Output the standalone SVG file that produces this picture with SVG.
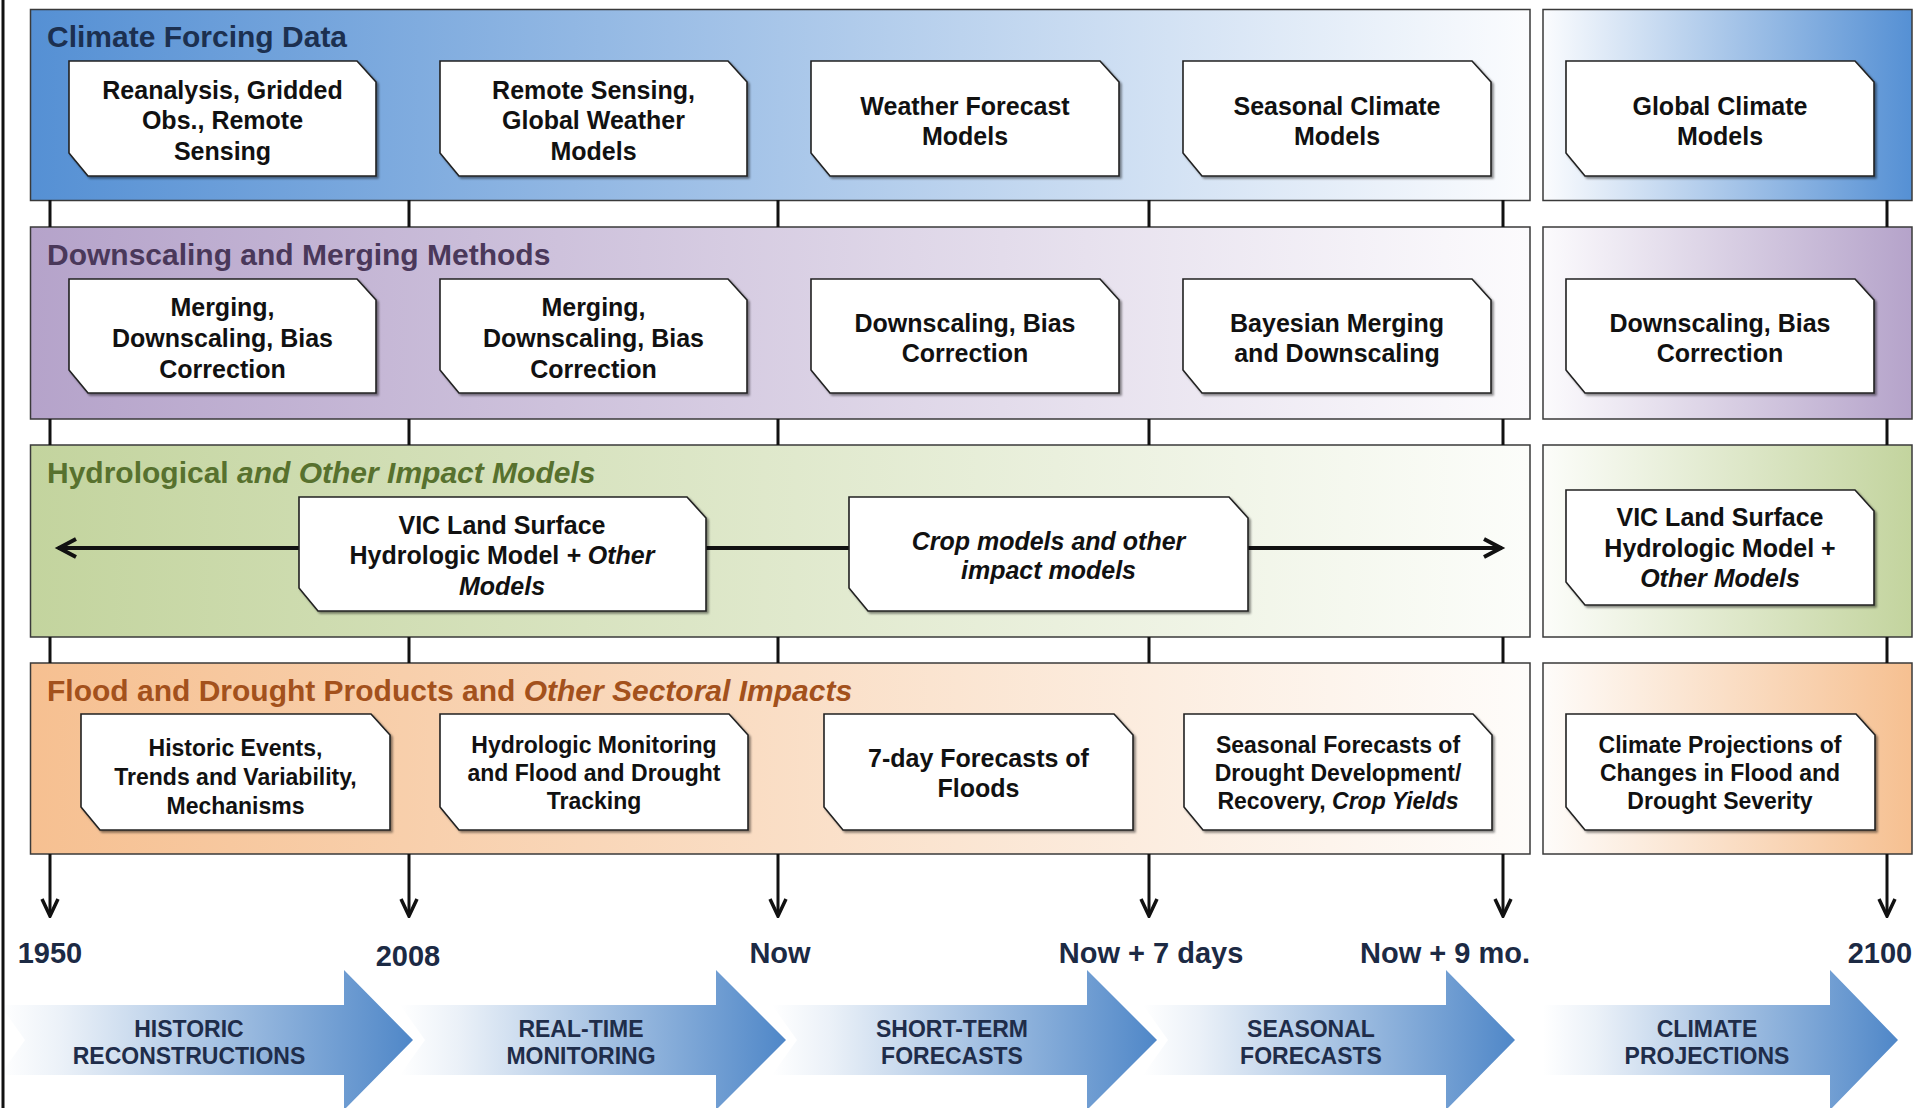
<svg xmlns="http://www.w3.org/2000/svg" width="1927" height="1108" viewBox="0 0 1927 1108">
  <defs>
    <style>
      text { font-family: "Liberation Sans", Arial, Helvetica, sans-serif; font-weight: bold; }
      .panel { stroke: #3a3a3a; stroke-width: 1.5; }
      .title { font-size: 30px; }
      .box { fill: #ffffff; stroke: #222222; stroke-width: 1.6; filter: url(#shadow); }
      .bt { font-size: 25px; fill: #111111; text-anchor: middle; }
      .bs { font-size: 23px; fill: #111111; text-anchor: middle; }
      .it { font-style: italic; }
      .tick { stroke: #111111; stroke-width: 3; fill: none; }
      .time { font-size: 29px; fill: #1c2a44; text-anchor: middle; }
      .phase { font-size: 23px; fill: #1f2d4a; text-anchor: middle; }
      .flow { stroke: #111111; stroke-width: 4; fill: none; }
    </style>
    <filter id="shadow" x="-5%" y="-5%" width="115%" height="120%">
      <feDropShadow dx="2" dy="2" stdDeviation="1" flood-color="#000000" flood-opacity="0.45"/>
    </filter>
    <linearGradient id="gBlueL" x1="0" y1="0" x2="1" y2="0">
      <stop offset="0" stop-color="#5590d4"/><stop offset="1" stop-color="#fbfcfe"/>
    </linearGradient>
    <linearGradient id="gBlueR" x1="0" y1="0" x2="1" y2="0">
      <stop offset="0" stop-color="#fbfcfe"/><stop offset="1" stop-color="#5590d4"/>
    </linearGradient>
    <linearGradient id="gPurpL" x1="0" y1="0" x2="1" y2="0">
      <stop offset="0" stop-color="#b5a3ca"/><stop offset="1" stop-color="#fcfbfd"/>
    </linearGradient>
    <linearGradient id="gPurpR" x1="0" y1="0" x2="1" y2="0">
      <stop offset="0" stop-color="#fcfbfd"/><stop offset="1" stop-color="#b5a3ca"/>
    </linearGradient>
    <linearGradient id="gGreenL" x1="0" y1="0" x2="1" y2="0">
      <stop offset="0" stop-color="#c3d49e"/><stop offset="1" stop-color="#fcfdfa"/>
    </linearGradient>
    <linearGradient id="gGreenR" x1="0" y1="0" x2="1" y2="0">
      <stop offset="0" stop-color="#fcfdfa"/><stop offset="1" stop-color="#c3d49e"/>
    </linearGradient>
    <linearGradient id="gOrangeL" x1="0" y1="0" x2="1" y2="0">
      <stop offset="0" stop-color="#f6c091"/><stop offset="1" stop-color="#fefcfa"/>
    </linearGradient>
    <linearGradient id="gOrangeR" x1="0" y1="0" x2="1" y2="0">
      <stop offset="0" stop-color="#fefcfa"/><stop offset="1" stop-color="#f6c091"/>
    </linearGradient>
    <linearGradient id="gPhase" x1="0" y1="0" x2="1" y2="0">
      <stop offset="0" stop-color="#ffffff"/><stop offset="0.15" stop-color="#ebf1f8"/><stop offset="1" stop-color="#4f87c8"/>
    </linearGradient>
    <!-- chevron head, drawn along +x so orient="auto" follows the line -->
    <marker id="down" viewBox="-20 -10 22 20" markerWidth="22" markerHeight="20" refX="0" refY="0" orient="auto" markerUnits="userSpaceOnUse">
      <path d="M -17,-8 L 0,0 L -17,8" fill="none" stroke="#111111" stroke-width="3.5" stroke-linejoin="miter"/>
    </marker>
  </defs>

  <rect x="0" y="0" width="1927" height="1108" fill="#ffffff"/>

  <!-- bands -->
  <g id="band-forcing">
    <rect class="panel" x="30.5" y="9.5" width="1499.5" height="191" fill="url(#gBlueL)"/>
    <rect class="panel" x="1543" y="9.5" width="369" height="191" fill="url(#gBlueR)"/>
    <text class="title" x="47" y="47" fill="#1c3050">Climate Forcing Data</text>
  </g>
  <g id="band-downscaling">
    <rect class="panel" x="30.5" y="227" width="1499.5" height="192" fill="url(#gPurpL)"/>
    <rect class="panel" x="1543" y="227" width="369" height="192" fill="url(#gPurpR)"/>
    <text class="title" x="47" y="265" fill="#4a385a">Downscaling and Merging Methods</text>
  </g>
  <g id="band-impact">
    <rect class="panel" x="30.5" y="445" width="1499.5" height="192" fill="url(#gGreenL)"/>
    <rect class="panel" x="1543" y="445" width="369" height="192" fill="url(#gGreenR)"/>
    <text class="title" x="47" y="483" fill="#57712e">Hydrological <tspan class="it">and Other Impact Models</tspan></text>
  </g>
  <g id="band-products">
    <rect class="panel" x="30.5" y="663" width="1499.5" height="191" fill="url(#gOrangeL)"/>
    <rect class="panel" x="1543" y="663" width="369" height="191" fill="url(#gOrangeR)"/>
    <text class="title" x="47" y="701" fill="#a3511c">Flood and Drought Products and <tspan class="it">Other Sectoral Impacts</tspan></text>
  </g>

  <!-- connectors: ticks between bands, model-chain arrow, timeline arrows -->
  <g id="connectors">
    <path class="tick" d="M50,200 V227 M409,200 V227 M778,200 V227 M1149,200 V227 M1503,200 V227 M1887,200 V227"/>
    <path class="tick" d="M50,419 V445 M409,419 V445 M778,419 V445 M1149,419 V445 M1503,419 V445 M1887,419 V445"/>
    <path class="tick" d="M50,637 V663 M409,637 V663 M778,637 V663 M1149,637 V663 M1503,637 V663 M1887,637 V663"/>
    <line class="flow" x1="58" y1="548" x2="1502" y2="548"/>
    <path class="flow" d="M76,539 L59,548 L76,557"/>
    <path class="flow" d="M1484,539 L1501,548 L1484,557"/>
    <line class="tick" x1="50" y1="854" x2="50" y2="916" marker-end="url(#down)"/>
    <line class="tick" x1="409" y1="854" x2="409" y2="916" marker-end="url(#down)"/>
    <line class="tick" x1="778" y1="854" x2="778" y2="916" marker-end="url(#down)"/>
    <line class="tick" x1="1149" y1="854" x2="1149" y2="916" marker-end="url(#down)"/>
    <line class="tick" x1="1503" y1="854" x2="1503" y2="916" marker-end="url(#down)"/>
    <line class="tick" x1="1887" y1="854" x2="1887" y2="916" marker-end="url(#down)"/>
  </g>

  <!-- row 1: forcing sources -->
  <g id="n-reanalysis">
    <path class="box" d="M69,61 H357 L376,82 V176 H88 L69,153 Z"/>
    <text class="bt"><tspan x="222.5" y="99">Reanalysis, Gridded</tspan><tspan x="222.5" y="129">Obs., Remote</tspan><tspan x="222.5" y="160">Sensing</tspan></text>
  </g>
  <g id="n-remote-sensing">
    <path class="box" d="M440,61 H728 L747,82 V176 H459 L440,153 Z"/>
    <text class="bt"><tspan x="593.5" y="99">Remote Sensing,</tspan><tspan x="593.5" y="129">Global Weather</tspan><tspan x="593.5" y="160">Models</tspan></text>
  </g>
  <g id="n-weather-forecast">
    <path class="box" d="M811,61 H1100 L1119,82 V176 H830 L811,153 Z"/>
    <text class="bt"><tspan x="965" y="115">Weather Forecast</tspan><tspan x="965" y="145">Models</tspan></text>
  </g>
  <g id="n-seasonal-climate">
    <path class="box" d="M1183,61 H1472 L1491,82 V176 H1202 L1183,153 Z"/>
    <text class="bt"><tspan x="1337" y="115">Seasonal Climate</tspan><tspan x="1337" y="145">Models</tspan></text>
  </g>
  <g id="n-global-climate">
    <path class="box" d="M1566,61 H1855 L1874,82 V176 H1585 L1566,153 Z"/>
    <text class="bt"><tspan x="1720" y="115">Global Climate</tspan><tspan x="1720" y="145">Models</tspan></text>
  </g>

  <!-- row 2: downscaling -->
  <g id="n-merging-1">
    <path class="box" d="M69,279 H357 L376,300 V393 H88 L69,370 Z"/>
    <text class="bt"><tspan x="222.5" y="316">Merging,</tspan><tspan x="222.5" y="347">Downscaling, Bias</tspan><tspan x="222.5" y="378">Correction</tspan></text>
  </g>
  <g id="n-merging-2">
    <path class="box" d="M440,279 H728 L747,300 V393 H459 L440,370 Z"/>
    <text class="bt"><tspan x="593.5" y="316">Merging,</tspan><tspan x="593.5" y="347">Downscaling, Bias</tspan><tspan x="593.5" y="378">Correction</tspan></text>
  </g>
  <g id="n-downscaling-1">
    <path class="box" d="M811,279 H1100 L1119,300 V393 H830 L811,370 Z"/>
    <text class="bt"><tspan x="965" y="332">Downscaling, Bias</tspan><tspan x="965" y="362">Correction</tspan></text>
  </g>
  <g id="n-bayesian">
    <path class="box" d="M1183,279 H1472 L1491,300 V393 H1202 L1183,370 Z"/>
    <text class="bt"><tspan x="1337" y="332">Bayesian Merging</tspan><tspan x="1337" y="362">and Downscaling</tspan></text>
  </g>
  <g id="n-downscaling-2">
    <path class="box" d="M1566,279 H1855 L1874,300 V393 H1585 L1566,370 Z"/>
    <text class="bt"><tspan x="1720" y="332">Downscaling, Bias</tspan><tspan x="1720" y="362">Correction</tspan></text>
  </g>

  <!-- row 3: impact models -->
  <g id="n-vic-1">
    <path class="box" d="M299,497 H687 L706,518 V611 H318 L299,588 Z"/>
    <text class="bt"><tspan x="502" y="534">VIC Land Surface</tspan><tspan x="502" y="564">Hydrologic Model <tspan class="it">+ Other</tspan></tspan><tspan x="502" y="595" class="it">Models</tspan></text>
  </g>
  <g id="n-crop">
    <path class="box" d="M849,497 H1229 L1248,518 V611 H868 L849,588 Z"/>
    <text class="bt it"><tspan x="1048.5" y="550">Crop models and other</tspan><tspan x="1048.5" y="579">impact models</tspan></text>
  </g>
  <g id="n-vic-2">
    <path class="box" d="M1566,490 H1855 L1874,511 V605 H1585 L1566,582 Z"/>
    <text class="bt"><tspan x="1720" y="526">VIC Land Surface</tspan><tspan x="1720" y="557">Hydrologic Model +</tspan><tspan x="1720" y="587" class="it">Other Models</tspan></text>
  </g>

  <!-- row 4: products -->
  <g id="n-historic">
    <path class="box" d="M81,714 H371 L390,735 V830 H100 L81,807 Z"/>
    <text class="bs"><tspan x="235.5" y="756">Historic Events,</tspan><tspan x="235.5" y="785">Trends and Variability,</tspan><tspan x="235.5" y="814">Mechanisms</tspan></text>
  </g>
  <g id="n-monitoring">
    <path class="box" d="M440,714 H729 L748,735 V830 H459 L440,807 Z"/>
    <text class="bs"><tspan x="594" y="753">Hydrologic Monitoring</tspan><tspan x="594" y="781">and Flood and Drought</tspan><tspan x="594" y="809">Tracking</tspan></text>
  </g>
  <g id="n-7day">
    <path class="box" d="M824,714 H1114 L1133,735 V830 H843 L824,807 Z"/>
    <text class="bt"><tspan x="978.5" y="767">7-day Forecasts of</tspan><tspan x="978.5" y="797">Floods</tspan></text>
  </g>
  <g id="n-seasonal-forecasts">
    <path class="box" d="M1184,714 H1473 L1492,735 V830 H1203 L1184,807 Z"/>
    <text class="bs"><tspan x="1338" y="753">Seasonal Forecasts of</tspan><tspan x="1338" y="781">Drought Development/</tspan><tspan x="1338" y="809">Recovery, <tspan class="it">Crop Yields</tspan></tspan></text>
  </g>
  <g id="n-projections">
    <path class="box" d="M1566,714 H1856 L1875,735 V830 H1585 L1566,807 Z"/>
    <text class="bs"><tspan x="1720" y="753">Climate Projections of</tspan><tspan x="1720" y="781">Changes in Flood and</tspan><tspan x="1720" y="809">Drought Severity</tspan></text>
  </g>

  <!-- timeline labels -->
  <g id="timeline">
    <text class="time" x="50" y="963">1950</text>
    <text class="time" x="408" y="966">2008</text>
    <text class="time" x="780" y="963">Now</text>
    <text class="time" x="1151" y="963">Now + 7 days</text>
    <text class="time" x="1445" y="963">Now + 9 mo.</text>
    <text class="time" x="1880" y="963">2100</text>
  </g>

  <!-- time-horizon arrows -->
  <g id="phase-historic">
    <path d="M0,1005 H344 V970 L413,1040 L344,1110 V1075 H0 L25,1040 Z" fill="url(#gPhase)"/>
    <text class="phase"><tspan x="189" y="1037">HISTORIC</tspan><tspan x="189" y="1064">RECONSTRUCTIONS</tspan></text>
  </g>
  <g id="phase-monitoring">
    <path d="M400,1005 H716 V970 L786,1040 L716,1110 V1075 H400 L425,1040 Z" fill="url(#gPhase)"/>
    <text class="phase"><tspan x="581" y="1037">REAL-TIME</tspan><tspan x="581" y="1064">MONITORING</tspan></text>
  </g>
  <g id="phase-short-term">
    <path d="M772,1005 H1087 V970 L1157,1040 L1087,1110 V1075 H772 L797,1040 Z" fill="url(#gPhase)"/>
    <text class="phase"><tspan x="952" y="1037">SHORT-TERM</tspan><tspan x="952" y="1064">FORECASTS</tspan></text>
  </g>
  <g id="phase-seasonal">
    <path d="M1143,1005 H1446 V970 L1515,1040 L1446,1110 V1075 H1143 L1168,1040 Z" fill="url(#gPhase)"/>
    <text class="phase"><tspan x="1311" y="1037">SEASONAL</tspan><tspan x="1311" y="1064">FORECASTS</tspan></text>
  </g>
  <g id="phase-climate">
    <path d="M1543,1005 H1830 V970 L1898,1040 L1830,1110 V1075 H1543 Z" fill="url(#gPhase)"/>
    <text class="phase"><tspan x="1707" y="1037">CLIMATE</tspan><tspan x="1707" y="1064">PROJECTIONS</tspan></text>
  </g>

  <!-- left frame rule, on top of everything -->
  <rect x="1.5" y="0" width="3" height="1108" fill="#111111"/>
</svg>
